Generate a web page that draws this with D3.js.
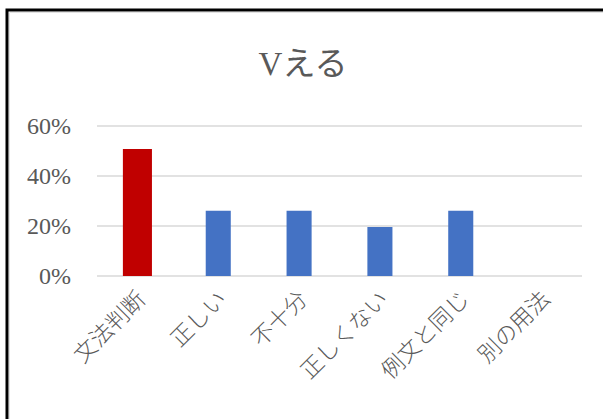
<!DOCTYPE html>
<html lang="ja">
<head>
    <meta charset="UTF-8">
    <title>Vえる</title>
    <script src="https://d3js.org/d3.v7.min.js"></script>
    <style>
        body { margin: 0; background: #fff; }
        svg text { fill: #595959; font-family: "Liberation Serif", "Noto Sans CJK JP", serif; }
        .grid line { stroke: #d9d9d9; stroke-width: 1.5px; }
        .cat { font-weight: 300; }
    </style>
</head>
<body>
    <div id="chart"></div>

    <script>
        // chart data
        const title = "Vえる";
        const categories = ["文法判断", "正しい", "不十分", "正しくない", "例文と同じ", "別の用法"];
        const values = [0.508, 0.261, 0.261, 0.196, 0.261, 0];
        const yTicks = [0, 0.2, 0.4, 0.6];
        const highlightIndex = 0;

        const width = 603, height = 419;
        const margin = { top: 126, right: 21, bottom: 143, left: 97 };

        const svg = d3.select("#chart")
            .append("svg")
            .attr("width", width)
            .attr("height", height);

        // frame (only left and top edges visible)
        svg.append("path")
            .attr("d", "M9.5,419 V12.5 H603")
            .attr("fill", "none")
            .attr("stroke", "#e3e3e3")
            .attr("stroke-width", 1);
        svg.append("path")
            .attr("d", "M7,419 V10 H603")
            .attr("fill", "none")
            .attr("stroke", "#000")
            .attr("stroke-width", 3);

        const x = d3.scaleBand()
            .domain(categories)
            .range([margin.left, width - margin.right])
            .paddingInner(0.69)
            .paddingOuter(0.345);

        const y = d3.scaleLinear()
            .domain([0, 0.6])
            .range([height - margin.bottom, margin.top]);

        // gridlines
        svg.append("g")
            .attr("class", "grid")
            .selectAll("line")
            .data(yTicks)
            .enter()
            .append("line")
            .attr("x1", margin.left)
            .attr("x2", width - margin.right)
            .attr("y1", d => y(d))
            .attr("y2", d => y(d));

        // y labels
        svg.append("g")
            .selectAll("text")
            .data(yTicks)
            .enter()
            .append("text")
            .attr("x", 71)
            .attr("y", d => y(d))
            .attr("dy", "0.35em")
            .attr("text-anchor", "end")
            .attr("font-size", 24)
            .text(d => d3.format(".0%")(d));

        // bars
        svg.append("g")
            .selectAll("rect")
            .data(values)
            .enter()
            .append("rect")
            .attr("x", (d, i) => x(categories[i]) - (i === highlightIndex ? 2 : 0))
            .attr("width", (d, i) => x.bandwidth() + (i === highlightIndex ? 4 : 0))
            .attr("y", d => y(d))
            .attr("height", d => y(0) - y(d))
            .attr("fill", (d, i) => i === highlightIndex ? "#c00000" : "#4472c4");

        // category labels
        svg.append("g")
            .selectAll("text")
            .data(categories)
            .enter()
            .append("text")
            .attr("class", "cat")
            .attr("transform", d => `translate(${x(d) + x.bandwidth() / 2 + 4},${y(0) + 19}) rotate(-45)`)
            .attr("text-anchor", "end")
            .attr("font-size", 22.5)
            .attr("dy", "0.35em")
            .text(d => d);

        // title
        svg.append("text")
            .attr("x", 303)
            .attr("y", 75)
            .attr("text-anchor", "middle")
            .attr("font-size", 33)
            .text(title);
    </script>
</body>
</html>
